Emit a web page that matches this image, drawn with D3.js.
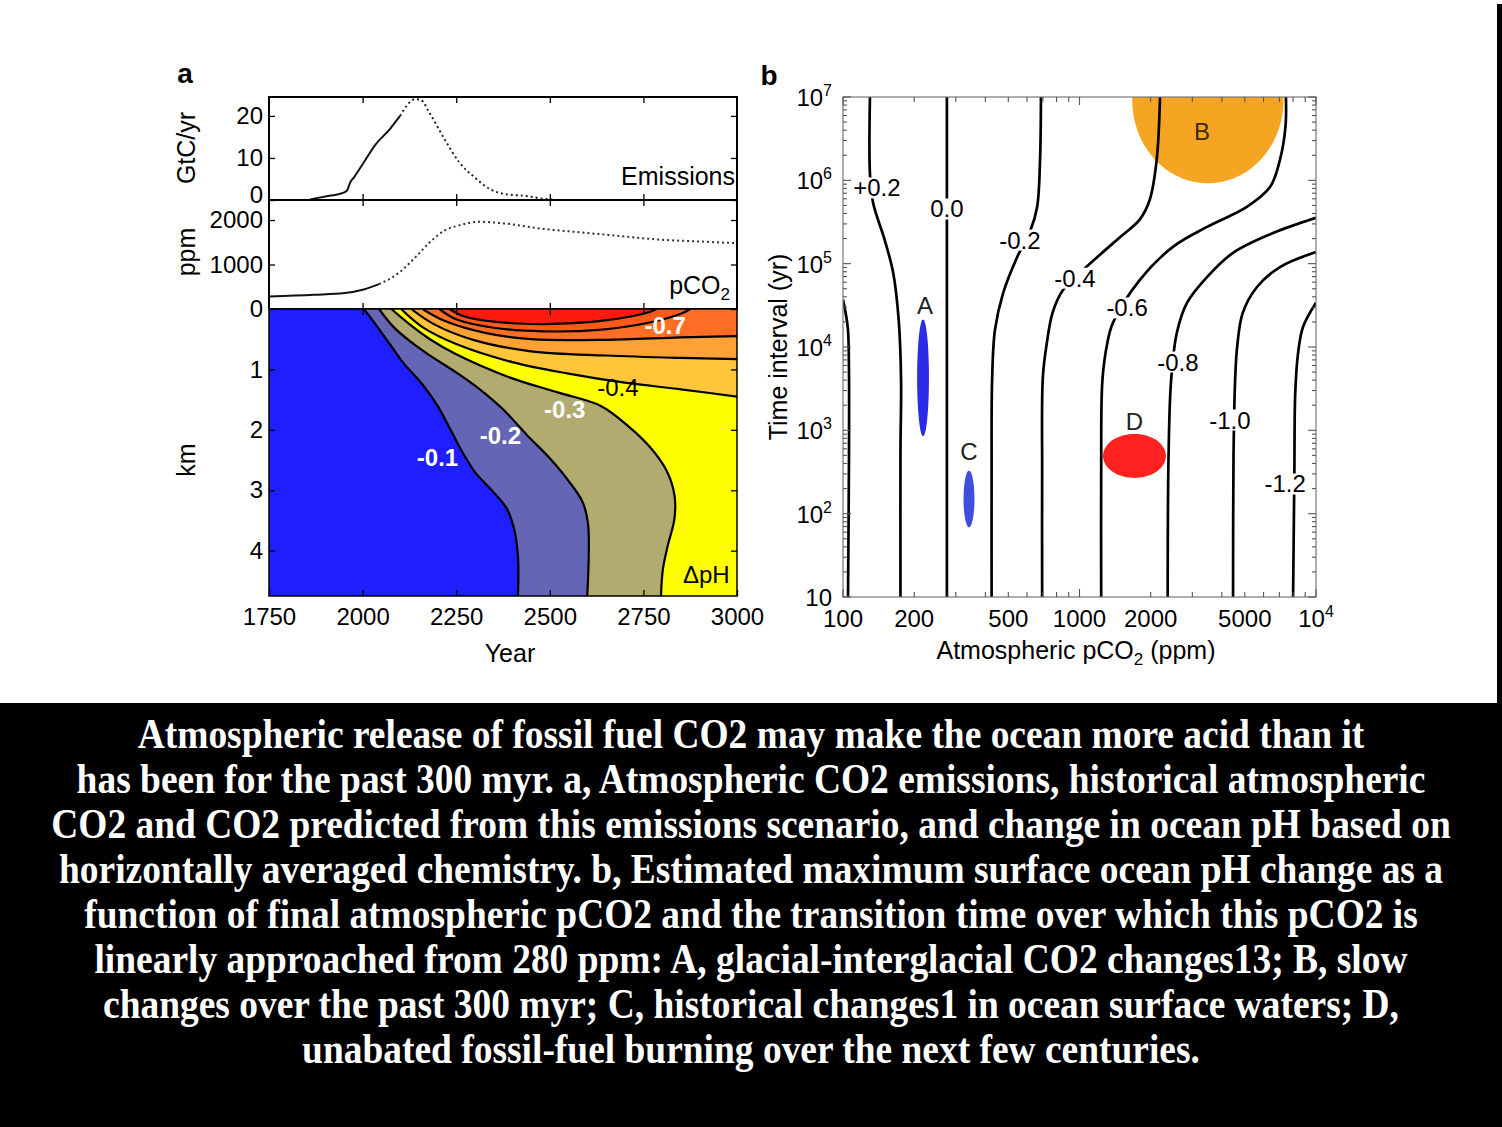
<!DOCTYPE html>
<html>
<head>
<meta charset="utf-8">
<script src="https://cdn.jsdelivr.net/npm/d3@7"></script>
<style>
  body { margin: 0; background: #fff; }
</style>
</head>
<body>
<div id="chart"></div>
<script>
const W = 1502, H = 1127;
const sans = '"Liberation Sans",Arial,Helvetica,sans-serif';
const serif = '"Liberation Serif","Times New Roman",Times,serif';

// ---- panel a: emissions (GtC/yr) ----
const emYears = [1860, 1911, 1945, 1958, 1967, 1977, 1998, 2033, 2074, 2100, 2141, 2156, 2177, 2218, 2258, 2299, 2340, 2381, 2432, 2483, 2514];
const emValues = [0.15, 1.0, 1.6, 2.2, 4.2, 5.4, 8.2, 13, 17, 20, 24, 23.8, 21, 14.6, 9, 5.4, 2.6, 1.4, 1.0, 0.3, 0.1];
const emSolidUntil = 2100;

// ---- panel a: atmospheric pCO2 (ppm) ----
const pco2Years = [1750, 1870, 1952, 2003, 2044, 2095, 2136, 2177, 2218, 2258, 2310, 2381, 2483, 2586, 2688, 2790, 2893, 2995];
const pco2Values = [280, 320, 360, 440, 560, 800, 1120, 1480, 1760, 1880, 1960, 1920, 1800, 1720, 1640, 1560, 1520, 1480];
const pco2SolidUntil = 2040;

// ---- panel a: delta pH contours, [year, depth km] ----
const phLevels = [-0.1, -0.2, -0.3, -0.4, -0.5, -0.6, -0.7, -0.8];
const ph01 = [[2004,0],[2040,0.3],[2075,0.6],[2110,0.9],[2160,1.25],[2200,1.6],[2235,2.0],[2265,2.35],[2300,2.7],[2345,3.0],[2385,3.3],[2405,3.65],[2415,4.1],[2415,4.75]];
const ph02 = [[2044,0],[2083,0.3],[2130,0.55],[2175,0.75],[2250,1.05],[2313,1.33],[2375,1.66],[2438,2.08],[2500,2.47],[2552,2.86],[2588,3.2],[2602,3.55],[2604,4.08],[2600,4.75]];
const ph03 = [[2077,0],[2125,0.25],[2180,0.5],[2250,0.75],[2396,1.14],[2521,1.38],[2635,1.6],[2708,1.93],[2771,2.31],[2813,2.69],[2833,3.08],[2833,3.47],[2815,3.92],[2802,4.31],[2797,4.75]];
const ph04 = [[2103,0],[2160,0.3],[2250,0.58],[2400,0.88],[2550,1.07],[2700,1.22],[2850,1.33],[3000,1.45]];
const ph05 = [[2130,0],[2190,0.25],[2300,0.52],[2450,0.7],[2650,0.77],[2850,0.81],[3000,0.83]];
const ph06 = [[2160,0],[2220,0.2],[2330,0.4],[2450,0.5],[2650,0.51],[2850,0.47],[3000,0.45]];
const ph07 = [[2205,0],[2250,0.17],[2350,0.31],[2480,0.37],[2640,0.34],[2770,0.22],[2850,0.08],[2875,0]];
const ph08 = [[2232,0],[2270,0.12],[2350,0.21],[2480,0.25],[2620,0.21],[2720,0.12],[2770,0.04],[2785,0]];
const phContours = [ph01, ph02, ph03, ph04, ph05, ph06, ph07, ph08];
const phLabels = ["-0.1", "-0.2", "-0.3", "-0.4", "-0.7", "ΔpH"];
const phLabelAt = [[2200,2.45],[2368,2.1],[2540,1.66],[2682,1.3],[2808,0.28],[2918,4.4]];

// ---- panel b: max surface pH change contours, [pCO2 ppm, time yr] ----
const bLevels = ["+0.4", "+0.2", "0.0", "-0.2", "-0.4", "-0.6", "-0.8", "-1.0", "-1.2"];
const bP04 = [[100,3.7e4],[103,2.4e4],[105,1.6e4],[106,5e3],[106,500],[105,10]];
const bP02 = [[130,1e7],[130,1.2e6],[134,5.4e5],[150,1.93e5],[163,7.8e4],[172,2.1e4],[176,4e3],[175,580],[175,10]];
const bZero = [[275,1e7],[275,10]];
const bM02 = [[687,1e7],[681,1.75e6],[662,4.8e5],[620,2.5e5],[545,1.2e5],[475,4.4e4],[439,1.6e4],[427,4e3],[425,300],[425,10]];
const bM04 = [[2190,1e7],[2120,1.76e6],[1980,5.8e5],[1800,3.4e5],[1490,2.1e5],[1190,1.2e5],[850,4.8e4],[770,2.6e4],[727,1.1e4],[700,4.4e3],[695,300],[695,10]];
const bM06 = [[7460,1e7],[7430,4.4e6],[7040,1.76e6],[6390,8.3e5],[5100,4.8e5],[3460,2.76e5],[2490,1.6e5],[1800,6.4e4],[1385,1.95e4],[1310,1.1e4],[1250,4e3],[1235,300],[1235,10]];
const bM08 = [[1e4,3.55e5],[6580,2.33e5],[4460,1.35e5],[3460,6.9e4],[2850,3.4e4],[2580,1.48e4],[2440,4e3],[2380,500],[2360,10]];
const bM10 = [[1e4,1.38e5],[7040,9.1e4],[5630,5.25e4],[4900,2.57e4],[4640,1e4],[4550,4e3],[4480,500],[4460,10]];
const bM12 = [[1e4,3.4e4],[8810,1.74e4],[8400,8.5e3],[8170,2.8e3],[8100,300],[8000,10]];
const bContours = [bP04, bP02, bZero, bM02, bM04, bM06, bM08, bM10, bM12];
const bLabelText = ["+0.2", "0.0", "-0.2", "-0.4", "-0.6", "-0.8", "-1.0", "-1.2"];
const bLabelAt = [[139,8.1e5],[275,4.53e5],[560,1.92e5],[957,6.7e4],[1589,2.94e4],[2606,6.6e3],[4325,1330],[7400,227]];

// ---- panel b: regions A-D (centre pCO2, centre time, half-width and half-height in decades) ----
const regionNames = ["A", "B", "C", "D"];
const regionCentre = [[218,4270],[3490,9.2e6],[341,150],[1708,493]];
const regionHalf = [[0.025,0.70],[0.32,1.0],[0.023,0.34],[0.133,0.264]];
const regionLabelAt = [[222,3.19e4],[3300,3.9e6],[341,550],[1708,1260]];

// ---- tick labels ----
const yearTicks = [1750, 2000, 2250, 2500, 2750, 3000];
const emTicks = [0, 10, 20];
const pco2Ticks = [1000, 2000];
const kmTicks = [0, 1, 2, 3, 4];
const bXTicks = [100, 200, 500, 1000, 2000, 5000, 10000];
const bXTickText = ["100", "200", "500", "1000", "2000", "5000", "10|4"];
const bYTicks = [10, 1e2, 1e3, 1e4, 1e5, 1e6, 1e7];

const caption = [
  "Atmospheric release of fossil fuel CO2 may make the ocean more acid than it",
  "has been for the past 300 myr. a, Atmospheric CO2 emissions, historical atmospheric",
  "CO2 and CO2 predicted from this emissions scenario, and change in ocean pH based on",
  "horizontally averaged chemistry. b, Estimated maximum surface ocean pH change as a",
  "function of final atmospheric pCO2 and the transition time over which this pCO2 is",
  "linearly approached from 280 ppm: A, glacial-interglacial CO2 changes13; B, slow",
  "changes over the past 300 myr; C, historical changes1 in ocean surface waters; D,",
  "unabated fossil-fuel burning over the next few centuries."
];

// ================= drawing =================
const svg = d3.select("#chart").append("svg").attr("width", W).attr("height", H);
svg.append("rect").attr("width", W).attr("height", 703).attr("fill", "#fff");
svg.append("rect").attr("y", 703).attr("width", W).attr("height", H - 703).attr("fill", "#000");
svg.append("rect").attr("x", 1497).attr("y", 4).attr("width", 5).attr("height", 699).attr("fill", "#000");

const defs = svg.append("defs");

// Scales, panel a
const xYear = d3.scaleLinear().domain([1750, 3000]).range([269, 737]);
const yEm = d3.scaleLinear().domain([0, 24.5]).range([200, 97]);
const yPco2 = d3.scaleLinear().domain([0, 2450]).range([309, 200]);
const yKm = d3.scaleLinear().domain([0, 4.75]).range([309, 596]);

// Scales, panel b
const xP = d3.scaleLog().domain([100, 1e4]).range([843, 1316]);
const yT = d3.scaleLog().domain([10, 1e7]).range([597, 97]);

const TICK_FS = 24, TITLE_FS = 25;
const styleText = (sel, size, family = sans) =>
  sel.attr("font-size", size).attr("font-family", family).attr("fill", "#000");

// inward ticks helper
function inwardAxis(axisFn, scale, values, translate, len, labels) {
  const ax = axisFn(scale).tickValues(values).tickSize(-len).tickPadding(6).tickFormat(d3.format("d"));
  if (!labels) ax.tickFormat("");
  const g = svg.append("g").attr("transform", translate).call(ax);
  g.select(".domain").remove();
  g.selectAll("line").attr("stroke", "#000").attr("stroke-width", 1.3);
  styleText(g.selectAll("text"), TICK_FS);
  return g;
}

// white box just behind a label, so the label sits in a gap of its contour line
function boxLabel(textSel, pad) {
  const bb = textSel.node().getBBox();
  svg.insert("rect", () => textSel.node())
    .attr("x", bb.x - pad).attr("y", bb.y + 3).attr("width", bb.width + 2 * pad).attr("height", bb.height - 6)
    .attr("fill", "#fff");
}

// split a series into a solid part and a dotted part that share one point
function splitSeries(pts, t) {
  const i = pts.findIndex(d => d[0] >= t);
  return [pts.slice(0, i + 1), pts.slice(i)];
}

// ---------- panel a, emissions ----------
const aL = xYear(1750), aR = xYear(3000);
const midYears = [2000, 2250, 2500, 2750];

const emLine = d3.line().x(d => xYear(d[0])).y(d => yEm(d[1])).curve(d3.curveMonotoneX);
const [emSolid, emDotted] = splitSeries(emYears.map((y, i) => [y, emValues[i]]), emSolidUntil);
svg.append("path").attr("d", emLine(emSolid))
  .attr("fill", "none").attr("stroke", "#111").attr("stroke-width", 2);
svg.append("path").attr("d", emLine(emDotted))
  .attr("fill", "none").attr("stroke", "#222").attr("stroke-width", 2).attr("stroke-dasharray", "2,3");

const pLine = d3.line().x(d => xYear(d[0])).y(d => yPco2(d[1])).curve(d3.curveMonotoneX);
const [pSolid, pDotted] = splitSeries(pco2Years.map((y, i) => [y, pco2Values[i]]), pco2SolidUntil);
svg.append("path").attr("d", pLine(pSolid))
  .attr("fill", "none").attr("stroke", "#111").attr("stroke-width", 2);
svg.append("path").attr("d", pLine(pDotted))
  .attr("fill", "none").attr("stroke", "#333").attr("stroke-width", 2).attr("stroke-dasharray", "2,3");

// frames for top two panels
[[yEm(24.5), yEm(0)], [yPco2(2450), yPco2(0)]].forEach(([t, b]) => {
  svg.append("rect").attr("x", aL).attr("y", t).attr("width", aR - aL).attr("height", b - t)
    .attr("fill", "none").attr("stroke", "#000").attr("stroke-width", 2);
});

const axEm = inwardAxis(d3.axisLeft, yEm, emTicks, `translate(${aL},0)`, 6, true);
axEm.selectAll("text").filter(d => d === 0).attr("dy", "0.1em");
inwardAxis(d3.axisRight, yEm, emTicks, `translate(${aR},0)`, 6, false);
inwardAxis(d3.axisTop, xYear, midYears, `translate(0,${yEm(24.5)})`, 6, false);
inwardAxis(d3.axisBottom, xYear, midYears, `translate(0,${yEm(0)})`, 6, false);
inwardAxis(d3.axisLeft, yPco2, pco2Ticks, `translate(${aL},0)`, 6, true);
inwardAxis(d3.axisRight, yPco2, pco2Ticks, `translate(${aR},0)`, 6, false);
inwardAxis(d3.axisTop, xYear, midYears, `translate(0,${yPco2(2450)})`, 6, false);
inwardAxis(d3.axisBottom, xYear, midYears, `translate(0,${yPco2(0)})`, 6, false);

styleText(svg.append("text").attr("x", 735).attr("y", 185).attr("text-anchor", "end").text("Emissions"), TITLE_FS);
const pco2Lab = styleText(svg.append("text").attr("x", 730).attr("y", 294).attr("text-anchor", "end"), TITLE_FS);
pco2Lab.append("tspan").text("pCO");
pco2Lab.append("tspan").attr("font-size", 17).attr("dy", 6).text("2");

// ---------- panel a, delta pH contours ----------
defs.append("clipPath").attr("id", "clipA").append("rect")
  .attr("x", aL).attr("y", yKm(0)).attr("width", aR - aL).attr("height", yKm(4.75) - yKm(0));

const bandFills = ["#6565b5", "#b1ab70", "#ffff00", "#ffc63c", "#ffa235", "#ff6e24", "#ff5a1c", "#ff1a10"];
const contourEnd = ["bottom", "bottom", "bottom", "right", "right", "right", "surface", "surface"];
const kmLine = d3.line().x(d => xYear(d[0])).y(d => yKm(d[1])).curve(d3.curveCatmullRom.alpha(0.5));

const gA = svg.append("g").attr("clip-path", "url(#clipA)");
gA.append("rect").attr("x", aL).attr("y", yKm(0)).attr("width", aR - aL).attr("height", yKm(4.75) - yKm(0))
  .attr("fill", "#1e1eff");
phContours.forEach((pts, i) => {
  let d = kmLine(pts);
  if (contourEnd[i] === "bottom") d += `L${xYear(3010)},${yKm(4.8)}L${xYear(3010)},${yKm(-0.1)}L${xYear(pts[0][0])},${yKm(-0.1)}Z`;
  else if (contourEnd[i] === "right") d += `L${xYear(3010)},${yKm(-0.1)}L${xYear(pts[0][0])},${yKm(-0.1)}Z`;
  else d += "Z";
  gA.append("path").attr("d", d).attr("fill", bandFills[i]);
});
phContours.forEach(pts => {
  gA.append("path").attr("d", kmLine(pts)).attr("fill", "none")
    .attr("stroke", "#000").attr("stroke-width", 2.2);
});
svg.append("rect").attr("x", aL).attr("y", yKm(0)).attr("width", aR - aL).attr("height", yKm(4.75) - yKm(0))
  .attr("fill", "none").attr("stroke", "#000").attr("stroke-width", 1.5);

inwardAxis(d3.axisLeft, yKm, kmTicks, `translate(${aL},0)`, 6, true);
inwardAxis(d3.axisRight, yKm, kmTicks, `translate(${aR},0)`, 6, false);
inwardAxis(d3.axisTop, xYear, midYears, `translate(0,${yKm(0)})`, 6, false);
const axYear = inwardAxis(d3.axisBottom, xYear, yearTicks, `translate(0,${yKm(4.75)})`, 6, true);
axYear.selectAll("text").attr("dy", "0.95em");

const labelStyle = [
  {fill: "#fff", weight: "bold"}, {fill: "#fff", weight: "bold"}, {fill: "#fff", weight: "bold"},
  {fill: "#000", weight: "normal"}, {fill: "#fff", weight: "bold"}, {fill: "#000", weight: "normal"}
];
phLabels.forEach((t, i) => {
  styleText(svg.append("text"), TICK_FS)
    .attr("x", xYear(phLabelAt[i][0])).attr("y", yKm(phLabelAt[i][1]))
    .attr("text-anchor", "middle").attr("dominant-baseline", "central")
    .attr("fill", labelStyle[i].fill).attr("font-weight", labelStyle[i].weight)
    .text(t);
});

// axis titles, panel a
const vTitle = (txt, x, y) => styleText(svg.append("text"), TITLE_FS)
  .attr("transform", `translate(${x},${y}) rotate(-90)`).attr("text-anchor", "middle").text(txt);
vTitle("GtC/yr", 195, 148);
vTitle("ppm", 195, 252);
vTitle("km", 195, 460);
styleText(svg.append("text"), TITLE_FS).attr("x", 510).attr("y", 662).attr("text-anchor", "middle").text("Year");
styleText(svg.append("text"), 28, sans).attr("font-weight", "bold").attr("x", 185).attr("y", 83)
  .attr("text-anchor", "middle").text("a");

// ---------- panel b ----------
const bL = xP(100), bR = xP(1e4), bT = yT(1e7), bB = yT(10);
defs.append("clipPath").attr("id", "clipB").append("rect")
  .attr("x", bL).attr("y", bT).attr("width", bR - bL).attr("height", bB - bT);
const gB = svg.append("g").attr("clip-path", "url(#clipB)");

const regionFill = ["#2b2be8", "#f6a523", "#3d4fdc", "#ff2020"];
const ring = d3.range(0, 73).map(k => k * 2 * Math.PI / 72);
const regionLine = d3.line().x(d => xP(d[0])).y(d => yT(d[1])).curve(d3.curveLinearClosed);
regionNames.forEach((n, i) => {
  const [cx, cy] = regionCentre[i], [hx, hy] = regionHalf[i];
  const pts = ring.map(a => [cx * Math.pow(10, hx * Math.cos(a)), cy * Math.pow(10, hy * Math.sin(a))]);
  gB.append("path").attr("d", regionLine(pts)).attr("fill", regionFill[i]);
});

const bLine = d3.line().x(d => xP(d[0])).y(d => yT(d[1])).curve(d3.curveCatmullRom.alpha(0.5));
bContours.forEach(pts => {
  gB.append("path").attr("d", bLine(pts)).attr("fill", "none")
    .attr("stroke", "#000").attr("stroke-width", 2.7);
});

// frame
svg.append("rect").attr("x", bL).attr("y", bT).attr("width", bR - bL).attr("height", bB - bT)
  .attr("fill", "none").attr("stroke", "#777").attr("stroke-width", 1.2);

// log ticks, inward
const ticksX = xP.ticks(), ticksY = yT.ticks();
const isMajor = v => Math.abs(Math.log10(v) - Math.round(Math.log10(v))) < 1e-9;
const gTick = svg.append("g").attr("stroke", "#555").attr("stroke-width", 1.1);
ticksX.forEach(v => {
  const l = isMajor(v) ? 8 : 5;
  gTick.append("line").attr("x1", xP(v)).attr("x2", xP(v)).attr("y1", bB).attr("y2", bB - l);
  gTick.append("line").attr("x1", xP(v)).attr("x2", xP(v)).attr("y1", bT).attr("y2", bT + l);
});
ticksY.forEach(v => {
  const l = isMajor(v) ? 8 : 4;
  gTick.append("line").attr("y1", yT(v)).attr("y2", yT(v)).attr("x1", bL).attr("x2", bL + l);
  gTick.append("line").attr("y1", yT(v)).attr("y2", yT(v)).attr("x1", bR).attr("x2", bR - l);
});

// tick labels
bXTicks.forEach((v, i) => {
  const t = styleText(svg.append("text"), TICK_FS).attr("x", xP(v)).attr("y", bB + 30).attr("text-anchor", "middle");
  const parts = bXTickText[i].split("|");
  t.append("tspan").text(parts[0]);
  if (parts[1]) t.append("tspan").attr("font-size", 16).attr("dy", -10).text(parts[1]);
});
bYTicks.forEach(v => {
  const e = Math.round(Math.log10(v));
  const t = styleText(svg.append("text"), TICK_FS).attr("x", bL - 11).attr("y", yT(v) + 9).attr("text-anchor", "end");
  t.append("tspan").text("10");
  if (e > 1) t.append("tspan").attr("font-size", 16).attr("dy", -10).text(e);
});

// contour labels, set into a gap in their line
bLabelText.forEach((t, i) => {
  const lab = styleText(svg.append("text"), TICK_FS)
    .attr("x", xP(bLabelAt[i][0])).attr("y", yT(bLabelAt[i][1]))
    .attr("text-anchor", "middle").attr("dominant-baseline", "central")
    .text(t);
  boxLabel(lab, 1);
});
regionNames.forEach((n, i) => {
  styleText(svg.append("text"), TICK_FS)
    .attr("x", xP(regionLabelAt[i][0])).attr("y", yT(regionLabelAt[i][1]))
    .attr("text-anchor", "middle").attr("dominant-baseline", "central")
    .attr("fill", i === 1 ? "#3a2a10" : "#222").text(n);
});

// axis titles, panel b
vTitle("Time interval (yr)", 787, 347);
const xt = styleText(svg.append("text"), TITLE_FS).attr("x", 1076).attr("y", 659).attr("text-anchor", "middle");
xt.append("tspan").text("Atmospheric pCO");
xt.append("tspan").attr("font-size", 17).attr("dy", 6).text("2");
xt.append("tspan").attr("dy", -6).text(" (ppm)");
styleText(svg.append("text"), 28, sans).attr("font-weight", "bold").attr("x", 769).attr("y", 85)
  .attr("text-anchor", "middle").text("b");

// ---------- caption ----------
const cap = svg.append("g").attr("font-family", serif).attr("font-weight", "bold")
  .attr("fill", "#fff").attr("text-anchor", "middle");
const probe = cap.append("text").attr("font-size", 30).text(caption[2]);
const capSize = 30 * 1400 / probe.node().getComputedTextLength();
probe.remove();
caption.forEach((line, i) => {
  cap.append("text").attr("transform", `translate(751,${748 + i * 45}) scale(1,1.15)`)
    .attr("font-size", capSize).text(line);
});
</script>
</body>
</html>
